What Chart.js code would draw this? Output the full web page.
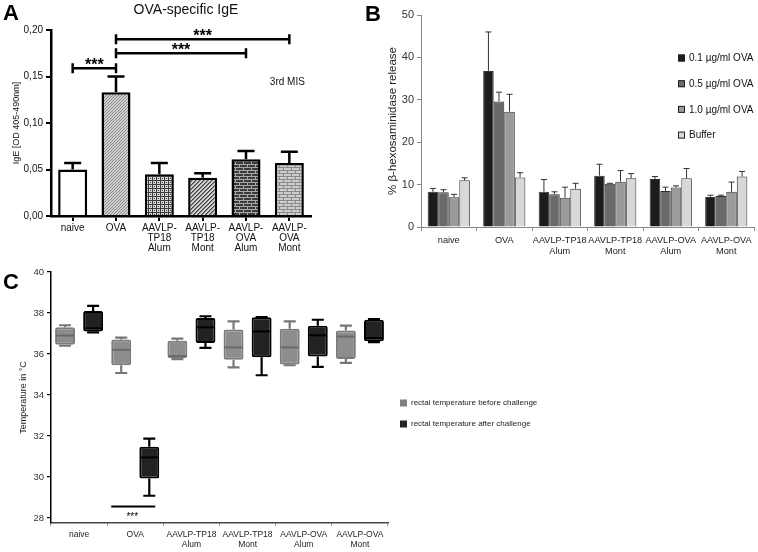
<!DOCTYPE html>
<html><head><meta charset="utf-8">
<script src="https://cdn.jsdelivr.net/npm/chart.js@4/dist/chart.umd.min.js"></script>
<style>
body{margin:0;background:#fff;width:758px;height:552px;position:relative;overflow:hidden;font-family:"Liberation Sans",Arial,sans-serif}
canvas{position:absolute}
.lbl{position:absolute;font-weight:bold;font-size:22px;line-height:22px;color:#000;font-family:"Liberation Sans",Arial,sans-serif}
</style></head><body>
<canvas id="cA" width="370" height="270" style="left:0;top:0"></canvas>
<canvas id="cB" width="388" height="270" style="left:370px;top:0"></canvas>
<canvas id="cC" width="758" height="290" style="left:0;top:262px"></canvas>
<div class="lbl" style="left:3px;top:2px">A</div>
<div class="lbl" style="left:365px;top:3px">B</div>
<div class="lbl" style="left:3px;top:271px">C</div>
<script>
// ---------- Panel A data ----------
const categoriesA = ["naive","OVA",["AAVLP-","TP18","Alum"],["AAVLP-","TP18","Mont"],["AAVLP-","OVA","Alum"],["AAVLP-","OVA","Mont"]];
const igeMean = [0.050,0.133,0.045,0.041,0.061,0.057];
const igeErr  = [0.007,0.017,0.012,0.005,0.009,0.012];
const yTicksA = [0,0.05,0.10,0.15,0.20];
const sigPairsA = [[0,1,0.159],[1,4,0.175],[1,5,0.190]];
const titleA = "OVA-specific IgE";
const noteA = "3rd MIS";

// ---------- Panel B data ----------
const categoriesB = ["naive","OVA",["AAVLP-TP18","Alum"],["AAVLP-TP18","Mont"],["AAVLP-OVA","Alum"],["AAVLP-OVA","Mont"]];
const seriesB = ["0.1 µg/ml OVA","0.5 µg/ml OVA","1.0 µg/ml OVA","Buffer"];
const ova01    = [8.3,36.8,8.3,12.1,11.3,7.1];
const ova01Err = [0.8,9.2,2.9,2.7,0.6,0.4];
const ova05    = [8.2,29.6,7.7,10.2,8.5,7.3];
const ova05Err = [0.6,2.2,0.6,0.1,0.9,0.2];
const ova10    = [7.0,27.2,6.9,10.7,9.3,8.3];
const ova10Err = [0.7,4.1,2.5,2.6,0.4,2.3];
const bufB     = [11.0,11.7,9.0,11.5,11.5,11.9];
const bufBErr  = [0.6,1.1,1.3,1.1,2.3,1.2];
const yTicksB = [0,10,20,30,40,50];

// ---------- Panel C data ----------
const categoriesC = ["naive","OVA",["AAVLP-TP18","Alum"],["AAVLP-TP18","Mont"],["AAVLP-OVA","Alum"],["AAVLP-OVA","Mont"]];
const seriesC = ["rectal temperature before challenge","rectal temperature after challenge"];
// [min, q1, median, q3, max]
const tempBefore = [[36.40,36.45,36.90,37.30,37.40],[35.07,35.45,36.20,36.70,36.80],[35.75,35.80,35.90,36.65,36.75],[35.35,35.72,36.32,37.19,37.59],[35.45,35.48,36.32,37.23,37.59],[35.56,35.76,36.85,37.14,37.38]];
const tempAfter  = [[37.05,37.10,37.25,38.10,38.35],[29.08,29.92,30.95,31.47,31.87],[36.30,36.54,37.30,37.76,37.84],[34.96,35.84,37.10,37.79,37.80],[35.37,35.88,36.91,37.38,37.67],[36.58,36.62,36.78,37.67,37.70]];
const yTicksC = [28,30,32,34,36,38,40];
const sigC = {category:1, level:28.55, text:"***"};

const FONT = '"Liberation Sans", Arial, sans-serif';
Chart.defaults.font.family = FONT;
Chart.defaults.animation = false;

function makePattern(w,h,draw){const c=document.createElement('canvas');c.width=w;c.height=h;const g=c.getContext('2d');draw(g);return g.createPattern(c,'repeat');}
const patOVA = makePattern(3,3,g=>{g.fillStyle='#cfcfcf';g.fillRect(0,0,3,3);g.fillStyle='#8a8a8a';g.fillRect(0,0,1,1);g.fillRect(2,1,1,1);g.fillRect(1,2,1,1);});
const patGrid = makePattern(4,4,g=>{g.fillStyle='#d6d6d6';g.fillRect(0,0,4,4);g.fillStyle='#3a3a3a';g.fillRect(0,0,4,1);g.fillRect(0,0,1,4);g.fillRect(2,2,1,1);});
const patDiag = makePattern(4,4,g=>{g.fillStyle='#d4d4d4';g.fillRect(0,0,4,4);g.fillStyle='#404040';for(let i=0;i<4;i++){g.fillRect(i,3-i,1,1);}g.fillStyle='#808080';for(let i=0;i<4;i++){g.fillRect((i+1)%4,3-i,1,1);}});
const patBrickDark = makePattern(8,6,g=>{g.fillStyle='#3a3a3a';g.fillRect(0,0,8,6);g.fillStyle='#a8a8a8';g.fillRect(0,2,8,1);g.fillRect(0,5,8,1);g.fillRect(3,0,1,2);g.fillRect(7,3,1,2);});
const patBrickLight = makePattern(8,6,g=>{g.fillStyle='#cdcdcd';g.fillRect(0,0,8,6);g.fillStyle='#8a8a8a';g.fillRect(0,2,8,1);g.fillRect(0,5,8,1);g.fillRect(3,0,1,2);g.fillRect(7,3,1,2);});

function errPlugin(errs, color, width, cap){
  return {id:'errbars', afterDatasetsDraw(chart){
    const ctx=chart.ctx, y=chart.scales.y;
    chart.data.datasets.forEach((ds,di)=>{
      chart.getDatasetMeta(di).data.forEach((el,i)=>{
        const v=ds.data[i], e=errs[di][i];
        const yt=y.getPixelForValue(v+e), yb=y.getPixelForValue(v);
        ctx.save();ctx.strokeStyle=color;ctx.lineWidth=width;ctx.beginPath();
        ctx.moveTo(el.x,yb);ctx.lineTo(el.x,yt);ctx.moveTo(el.x-cap,yt);ctx.lineTo(el.x+cap,yt);ctx.stroke();ctx.restore();
      });
    });
  }};
}

// ---------- Chart A ----------
new Chart(document.getElementById('cA'),{
  type:'bar',
  data:{labels:categoriesA,datasets:[{data:igeMean,backgroundColor:['#ffffff',patOVA,patGrid,patDiag,patBrickDark,patBrickLight],borderColor:'#000',borderWidth:2.5,categoryPercentage:0.67,barPercentage:1}]},
  options:{responsive:false,maintainAspectRatio:false,
    layout:{padding:{left:0,right:59,top:30,bottom:0}},
    plugins:{legend:{display:false},tooltip:{enabled:false}},
    scales:{
      x:{afterFit:s=>{s.height=54;},grid:{display:true,drawOnChartArea:false,offset:false,tickLength:5,color:'#000',lineWidth:2},
        border:{color:'#000',width:2.5},ticks:{color:'#111',font:{size:10,lineHeight:1.0},padding:2,maxRotation:0,autoSkip:false}},
      y:{min:0,max:0.2,afterFit:s=>{s.width=51;},afterBuildTicks:s=>{s.ticks=yTicksA.map(v=>({value:v}));},
        grid:{display:true,drawOnChartArea:false,tickLength:5,color:'#000',lineWidth:2},border:{color:'#000',width:2.5},
        ticks:{color:'#111',font:{size:10},padding:3,callback:v=>v.toFixed(2).replace('.',',')},
        title:{display:true,text:'IgE [OD 405-490nm]',color:'#111',font:{size:9},padding:{top:11,bottom:0}}}
    }},
  plugins:[errPlugin([igeErr],'#000',2.5,8.5),{id:'sigA',afterDraw(chart){
    const ctx=chart.ctx,x=chart.scales.x,y=chart.scales.y;
    ctx.save();ctx.strokeStyle='#000';ctx.fillStyle='#000';ctx.lineWidth=2.5;
    sigPairsA.forEach(([a,b,l])=>{
      const x1=x.getPixelForValue(a),x2=x.getPixelForValue(b),yy=y.getPixelForValue(l);
      ctx.beginPath();ctx.moveTo(x1,yy);ctx.lineTo(x2,yy);ctx.moveTo(x1,yy-5);ctx.lineTo(x1,yy+5);ctx.moveTo(x2,yy-5);ctx.lineTo(x2,yy+5);ctx.stroke();
      ctx.font='bold 16px '+FONT;ctx.textAlign='center';ctx.textBaseline='alphabetic';ctx.fillText('***',(x1+x2)/2,yy+1.5);
    });
    ctx.font='10px '+FONT;ctx.fillStyle='#111';ctx.textAlign='center';ctx.textBaseline='middle';
    ctx.fillText(noteA,x.getPixelForValue(5)-2,y.getPixelForValue(0.144));
    ctx.font='14px '+FONT;ctx.fillStyle='#111';ctx.textAlign='center';ctx.textBaseline='middle';
    ctx.fillText(titleA,186,10);
    ctx.restore();
  }}]
});

// ---------- Chart B ----------
const colorsB=['#1c1c1c','#6a6a6a','#9b9b9b','#d8d8d8'];
new Chart(document.getElementById('cB'),{
  type:'bar',
  data:{labels:categoriesB,datasets:[ova01,ova05,ova10,bufB].map((d,i)=>({label:seriesB[i],data:d,backgroundColor:colorsB[i],borderColor:'#333',borderWidth:1,categoryPercentage:0.76,barPercentage:1}))},
  options:{responsive:false,maintainAspectRatio:false,
    layout:{padding:{left:0,right:4,top:15,bottom:0}},
    plugins:{legend:{display:false},tooltip:{enabled:false}},
    scales:{
      x:{afterFit:s=>{s.height=43;},grid:{display:true,drawOnChartArea:false,tickLength:4,color:'#888',lineWidth:1},
        border:{color:'#888',width:1},ticks:{color:'#222',font:{size:9.2,lineHeight:1.3},padding:3,maxRotation:0,autoSkip:false}},
      y:{min:0,max:50,afterFit:s=>{s.width=51;},afterBuildTicks:s=>{s.ticks=yTicksB.map(v=>({value:v}));},
        grid:{display:true,drawOnChartArea:false,tickLength:4,color:'#888',lineWidth:1},border:{color:'#888',width:1},
        ticks:{color:'#333',font:{size:11},padding:3},
        title:{display:true,text:'% β-hexosaminidase release',color:'#222',font:{size:11.5},padding:{top:16,bottom:0}}}
    }},
  plugins:[errPlugin([ova01Err,ova05Err,ova10Err,bufBErr],'#333',1,3),{id:'legB',afterDraw(chart){
    const ctx=chart.ctx;ctx.save();
    chart.data.datasets.forEach((ds,i)=>{
      const yy=58+i*25.7;
      ctx.fillStyle=ds.backgroundColor;ctx.fillRect(308,yy-3.5,7,7);ctx.strokeStyle='#222';ctx.lineWidth=1;ctx.strokeRect(308.5,yy-3,6,6);
      ctx.fillStyle='#111';ctx.font='10px '+FONT;ctx.textAlign='left';ctx.textBaseline='middle';ctx.fillText(ds.label,319,yy+0.5);
    });
    ctx.restore();
  }}]
});

// ---------- Chart C ----------
const statsC=[tempBefore,tempAfter];
const styleC=[{fill:'#8d8d8d',border:'#7a7a7a',whisker:'#777',line:'#6a6a6a',key:'#7f7f7f'},{fill:'#222222',border:'#000000',whisker:'#000',line:'#000000',key:'#222'}];
new Chart(document.getElementById('cC'),{
  type:'bar',
  data:{labels:categoriesC,datasets:statsC.map((st,i)=>({label:seriesC[i],data:st.map(b=>[b[1],b[3]]),backgroundColor:styleC[i].fill,borderColor:styleC[i].border,borderWidth:2,borderSkipped:false,borderRadius:2,categoryPercentage:1.0,barPercentage:0.71}))},
  options:{responsive:false,maintainAspectRatio:false,
    layout:{padding:{left:0,right:370,top:10,bottom:0}},
    plugins:{legend:{display:false},tooltip:{enabled:false}},
    scales:{
      x:{afterFit:s=>{s.height=29;},grid:{display:true,drawOnChartArea:false,tickLength:3,color:'#999',lineWidth:1},
        border:{color:'#444',width:1.5},ticks:{color:'#222',font:{size:8.5,lineHeight:1.15},padding:4,maxRotation:0,autoSkip:false}},
      y:{min:27.75,max:40,afterFit:s=>{s.width=51;},afterBuildTicks:s=>{s.ticks=yTicksC.map(v=>({value:v}));},
        grid:{display:true,drawOnChartArea:false,tickLength:4,color:'#000',lineWidth:1.2},border:{color:'#000',width:1.5},
        ticks:{color:'#333',font:{size:9.5},padding:3},
        title:{display:true,text:'Temperature in °C',color:'#222',font:{size:9},padding:{top:18,bottom:0}}}
    }},
  plugins:[{id:'boxC',
    beforeDatasetsDraw(chart){
      const ctx=chart.ctx,y=chart.scales.y;ctx.save();ctx.lineWidth=2.2;
      chart.data.datasets.forEach((ds,di)=>{
        ctx.strokeStyle=styleC[di].whisker;
        chart.getDatasetMeta(di).data.forEach((el,i)=>{
          const s=statsC[di][i],x=el.x;
          const ymin=y.getPixelForValue(s[0]),yq1=y.getPixelForValue(s[1]),yq3=y.getPixelForValue(s[3]),ymax=y.getPixelForValue(s[4]);
          ctx.beginPath();
          ctx.moveTo(x,yq3);ctx.lineTo(x,ymax);ctx.moveTo(x-6,ymax);ctx.lineTo(x+6,ymax);
          ctx.moveTo(x,yq1);ctx.lineTo(x,ymin);ctx.moveTo(x-6,ymin);ctx.lineTo(x+6,ymin);
          ctx.stroke();
        });
      });
      ctx.restore();
    },
    afterDatasetsDraw(chart){
      const ctx=chart.ctx,y=chart.scales.y,x=chart.scales.x;ctx.save();ctx.lineWidth=2;
      chart.data.datasets.forEach((ds,di)=>{
        ctx.strokeStyle=styleC[di].line;
        chart.getDatasetMeta(di).data.forEach((el,i)=>{
          const ym=y.getPixelForValue(statsC[di][i][2]);
          ctx.beginPath();ctx.moveTo(el.x-el.width/2+1,ym);ctx.lineTo(el.x+el.width/2-1,ym);ctx.stroke();
        });
      });
      const cx=x.getPixelForValue(sigC.category),yy=y.getPixelForValue(sigC.level);
      ctx.strokeStyle='#000';ctx.lineWidth=2;ctx.beginPath();ctx.moveTo(cx-24,yy);ctx.lineTo(cx+20,yy);ctx.stroke();
      ctx.fillStyle='#000';ctx.font='10px '+FONT;ctx.textAlign='center';ctx.textBaseline='alphabetic';ctx.fillText(sigC.text,cx-3,yy+13);
      ctx.font='8px '+FONT;ctx.textAlign='left';ctx.textBaseline='middle';
      chart.data.datasets.forEach((ds,i)=>{
        const ly=141+i*21;
        ctx.fillStyle=styleC[i].key;ctx.fillRect(400,ly-3.5,7,7);
        ctx.fillStyle='#222';ctx.fillText(ds.label,411,ly);
      });
      ctx.restore();
    }}]
});
</script>
</body></html>
